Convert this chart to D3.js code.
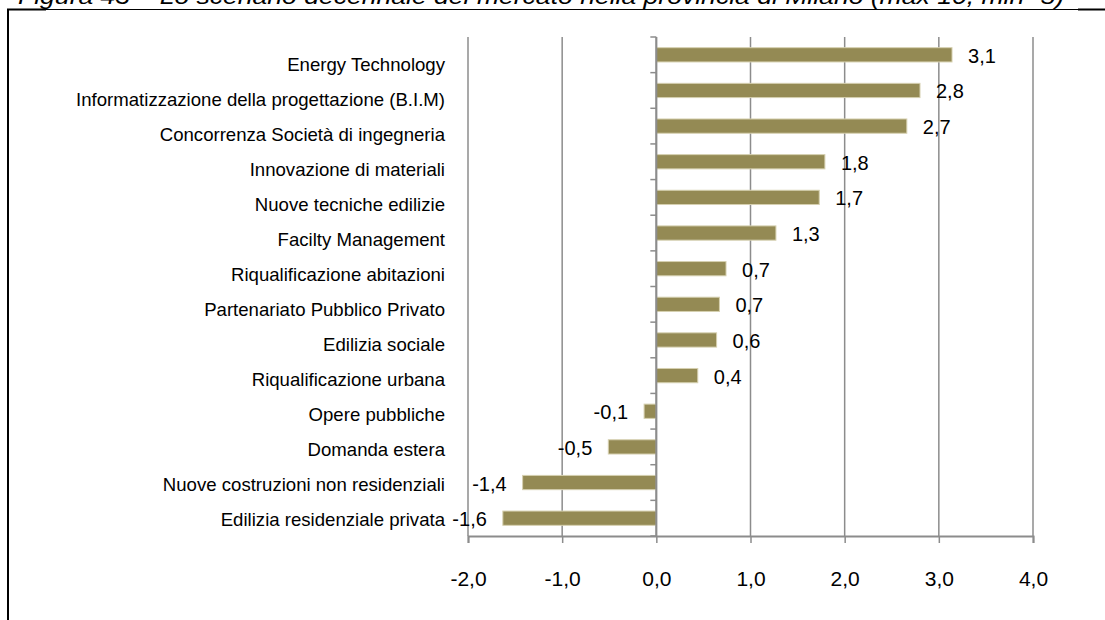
<!DOCTYPE html>
<html>
<head>
<meta charset="utf-8">
<script src="https://cdn.jsdelivr.net/npm/d3@7"></script>
<style>
  html, body { margin: 0; padding: 0; background: #fff; }
  svg { display: block; font-family: "Liberation Sans", Arial, sans-serif; }
</style>
</head>
<body>
<svg id="chart" width="1105" height="620"></svg>
<script>
// Scenario drivers, top to bottom
const categories = [
  "Energy Technology",
  "Informatizzazione della progettazione (B.I.M)",
  "Concorrenza Società di ingegneria",
  "Innovazione di materiali",
  "Nuove tecniche edilizie",
  "Facilty Management",
  "Riqualificazione abitazioni",
  "Partenariato Pubblico Privato",
  "Edilizia sociale",
  "Riqualificazione urbana",
  "Opere pubbliche",
  "Domanda estera",
  "Nuove costruzioni non residenziali",
  "Edilizia residenziale privata"
];
const values = [3.14, 2.80, 2.66, 1.79, 1.73, 1.27, 0.74, 0.67, 0.64, 0.44, -0.13, -0.51, -1.42, -1.63];
const xTicks = [-2, -1, 0, 1, 2, 3, 4];
const title = "Figura 43 \u2013 Lo scenario decennale del mercato nella provincia di Milano (max 10, min -5)";

const svg = d3.select("#chart");
const fmt = v => d3.format(".1f")(v).replace(".", ",").replace("\u2212", "-");

const plot = { left: 468, right: 1033, top: 37, bottom: 536 };

const x = d3.scaleLinear().domain([-2, 4]).range([plot.left, plot.right]);
const y = d3.scaleBand().domain(categories).range([plot.top, plot.bottom]).paddingInner(0.6).paddingOuter(0.3);
const yLabel = d3.scalePoint().domain(categories).range([64, 519]);

// Frame around the figure
svg.append("line").attr("x1", 8).attr("x2", 8).attr("y1", 9).attr("y2", 620)
  .attr("stroke", "#000").attr("stroke-width", 2);
svg.append("line").attr("x1", 7).attr("x2", 1105).attr("y1", 9.5).attr("y2", 9.5)
  .attr("stroke", "#000").attr("stroke-width", 1);
svg.append("line").attr("x1", 7).attr("x2", 46).attr("y1", 9.5).attr("y2", 9.5)
  .attr("stroke", "#000").attr("stroke-width", 2);
svg.append("line").attr("x1", 1078).attr("x2", 1105).attr("y1", 9.5).attr("y2", 9.5)
  .attr("stroke", "#000").attr("stroke-width", 2);

// Title, running off the top of the page
svg.append("text")
  .attr("x", 18).attr("y", 4)
  .attr("font-size", 22).attr("font-style", "italic")
  .attr("textLength", 1046).attr("lengthAdjust", "spacingAndGlyphs")
  .attr("fill", "#000")
  .text(title);

// Vertical gridlines
svg.append("g").selectAll("line").data(xTicks).join("line")
  .attr("x1", d => x(d)).attr("x2", d => x(d))
  .attr("y1", plot.top).attr("y2", plot.bottom)
  .attr("stroke", "#8c8c8c").attr("stroke-width", 1.5);

// Bottom axis
const xAxis = svg.append("g")
  .attr("transform", `translate(0,${plot.bottom})`)
  .call(d3.axisBottom(x).tickValues(xTicks).tickSize(7).tickPadding(28).tickFormat(fmt));
xAxis.select(".domain").attr("stroke", "#8c8c8c").attr("stroke-width", 2);
xAxis.selectAll(".tick line").attr("stroke", "#8c8c8c").attr("stroke-width", 1.5);
xAxis.selectAll(".tick text").attr("font-size", 21).attr("fill", "#000")
  .attr("font-family", "Liberation Sans, Arial, sans-serif");

// Bars
svg.append("g").selectAll("rect").data(values).join("rect")
  .attr("x", d => x(Math.min(0, d)))
  .attr("width", d => Math.abs(x(d) - x(0)))
  .attr("y", (d, i) => y(categories[i]))
  .attr("height", y.bandwidth())
  .attr("fill", "#948a54")
  .attr("stroke", "#d6d0b0").attr("stroke-width", 1);

// Zero axis with category ticks
const bounds = d3.range(categories.length + 1).map(i => plot.top + i * y.step());
svg.append("line").attr("x1", x(0)).attr("x2", x(0))
  .attr("y1", plot.top).attr("y2", plot.bottom)
  .attr("stroke", "#8c8c8c").attr("stroke-width", 2);
svg.append("g").selectAll("line").data(bounds).join("line")
  .attr("x1", x(0) - 6).attr("x2", x(0))
  .attr("y1", d => d).attr("y2", d => d)
  .attr("stroke", "#8c8c8c").attr("stroke-width", 1.5);

// Category labels
svg.append("g").selectAll("text").data(categories).join("text")
  .attr("x", 445).attr("y", d => yLabel(d))
  .attr("dy", "0.35em")
  .attr("text-anchor", "end")
  .attr("font-size", 18.6).attr("fill", "#000")
  .text(d => d);

// Value labels
svg.append("g").selectAll("text").data(values).join("text")
  .attr("x", d => d >= 0 ? x(d) + 16 : x(d) - 16)
  .attr("y", (d, i) => y(categories[i]) + y.bandwidth() / 2 + 1)
  .attr("dy", "0.35em")
  .attr("text-anchor", d => d >= 0 ? "start" : "end")
  .attr("font-size", 20).attr("fill", "#000")
  .text(d => fmt(d));
</script>
</body>
</html>
